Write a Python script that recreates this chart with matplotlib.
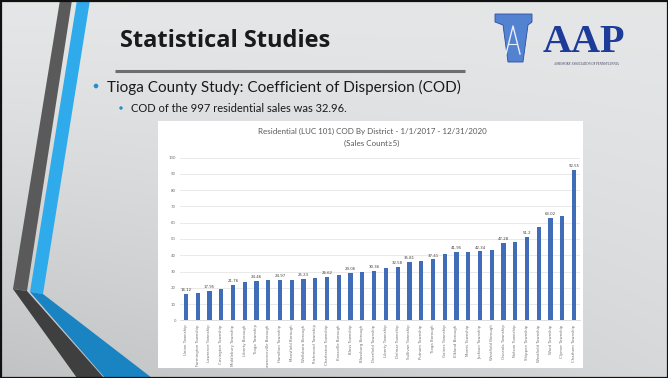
import numpy as np
import matplotlib.pyplot as plt
from matplotlib.patches import Polygon, Rectangle, Circle

# COD by district, sorted ascending
districts = [
    "Union Township", "Farmington Township", "Lawrence Township", "Covington Township",
    "Middlebury Township", "Liberty Borough", "Tioga Township", "Lawrenceville Borough",
    "Hamilton Township", "Mansfield Borough", "Wellsboro Borough", "Richmond Township",
    "Charleston Township", "Knoxville Borough", "Bloss Township", "Blossburg Borough",
    "Deerfield Township", "Liberty Township", "Delmar Township", "Sullivan Township",
    "Putnam Township", "Tioga Borough", "Gaines Township", "Elkland Borough",
    "Morris Township", "Jackson Township", "Westfield Borough", "Osceola Township",
    "Nelson Township", "Shippen Township", "Westfield Township", "Ward Township",
    "Clymer Township", "Chatham Township",
]
cod = [16.12, 16.5, 17.95, 19.3, 21.76, 23.4, 24.46, 24.5, 24.97, 25.0, 25.23, 26.3,
       26.62, 27.9, 29.06, 29.9, 30.36, 32.0, 32.58, 35.81, 36.5, 37.41, 40.7, 41.95,
       42.0, 42.34, 43.3, 47.28, 48.4, 51.2, 57.3, 63.02, 64.3, 92.55]
# bars that carry a value label
labeled = [0, 2, 4, 6, 8, 10, 12, 14, 16, 18, 19, 21, 23, 25, 27, 29, 31, 33]
y_ticks = list(range(0, 101, 10))

W, H = 668, 378
fig = plt.figure(figsize=(W / 100, H / 100), dpi=100)

# slide background, working in pixel coords
bg = fig.add_axes([0, 0, 1, 1])
bg.set_xlim(0, W)
bg.set_ylim(H, 0)
bg.axis('off')

yy, xx = np.mgrid[0:1:200j, 0:1:300j]
base = np.array([0.895, 0.903, 0.906])
drop = 0.14 * yy ** 1.3 * (1 - 0.6 * xx)
rgb = np.clip(base[None, None, :] - drop[:, :, None], 0, 1)
bg.imshow(rgb, extent=[0, W, H, 0], aspect='auto', zorder=0)

# left side bands
bg.add_patch(Polygon([(60, 0), (72, 0), (27, 291), (13, 289)], closed=True,
                     fc='#5a5a5a', ec='none', zorder=1))
bg.add_patch(Polygon([(13, 289), (27, 291), (104, 378), (77, 378)], closed=True,
                     fc='#3f3f3f', ec='none', zorder=1))
bg.add_patch(Polygon([(77, 0), (90, 0), (43, 294), (30, 292)], closed=True,
                     fc='#2fabeb', ec='none', zorder=1))
bg.add_patch(Polygon([(30, 292), (43, 294), (152, 378), (105, 378)], closed=True,
                     fc='#1a84c3', ec='none', zorder=1))

# title and rule
bg.text(120, 41, "Statistical Studies", fontsize=17, fontweight='bold',
        family='Open Sans', color='#1a1a1a', va='center', ha='left')
bg.plot([115, 465], [71, 71], color='#6e6e6e', lw=2.2, solid_capstyle='butt')

# logo
bg.add_patch(Polygon([(495, 14), (532, 14), (532, 22), (528, 25), (523, 62),
                      (508, 62), (503, 25), (495, 22)], closed=True,
                     fc='#5282d0', ec='#2c4f9e', lw=0.6, zorder=2))
bg.plot([506, 513, 520], [54, 26, 54], color='#e8eefa', lw=1.0, zorder=3)
bg.plot([509, 517], [44, 44], color='#e8eefa', lw=0.8, zorder=3)
bg.text(584, 42, "AAP", fontsize=29, fontweight='bold', family='Liberation Serif',
        color='#1d3c9a', ha='center', va='center')
bg.text(586, 64, "ASSESSORS' ASSOCIATION OF PENNSYLVANIA", fontsize=2.2,
        family='Liberation Serif', color='#333355', ha='center', va='center')

# bullets
bg.add_patch(Circle((96, 86), 2.3, fc='#1e8fd0', ec='none'))
bg.text(107, 87, "Tioga County Study: Coefficient of Dispersion (COD)", fontsize=11,
        family='Lato', color='#1a1a1a', va='center', ha='left')
bg.add_patch(Circle((121, 108), 1.7, fc='#1e8fd0', ec='none'))
bg.text(131, 109, "COD of the 997 residential sales was 32.96.", fontsize=8.0,
        family='Lato', color='#1a1a1a', va='center', ha='left')

# chart panel
bg.add_patch(Rectangle((158, 121), 425, 247, fc='white', ec='none', zorder=1))
bg.text(372, 131, "Residential (LUC 101) COD By District - 1/1/2017 - 12/31/2020",
        fontsize=5.8, family='Lato', color='#595959', ha='center', va='center')
bg.text(372, 143, "(Sales Count\u22655)", fontsize=5.8, family='Lato',
        color='#595959', ha='center', va='center')

# slide border
bg.add_patch(Rectangle((0.5, 0.5), W - 1, H - 1, fc='none', ec='#111111', lw=1.6, zorder=5))

ax = fig.add_axes([180 / W, (H - 320.3) / H, 400 / W, 162.6 / H])
ax.patch.set_alpha(0)
x = np.arange(len(districts))
ax.bar(x, cod, width=0.36, color='#3f6db8', zorder=2)
for i in labeled:
    ax.text(x[i], cod[i] + 1.2, '%g' % cod[i], fontsize=2.8, color='#404040',
            ha='center', va='bottom')
ax.set_xlim(-0.5, len(districts) - 0.5)
ax.set_ylim(0, 100)
ax.set_yticks(y_ticks)
ax.set_xticks(x)
ax.set_xticklabels(districts, rotation=90)
ax.yaxis.grid(True, color='#e0e0e0', lw=0.5)
ax.set_axisbelow(True)
for s in ['top', 'right', 'left']:
    ax.spines[s].set_visible(False)
ax.spines['bottom'].set_color('#d0d0d0')
ax.spines['bottom'].set_linewidth(0.5)
ax.tick_params(length=0, labelsize=2.8, colors='#707070', pad=3)

# keep district names inside the white panel
clip = Rectangle((158, 121), 425, 247, transform=bg.transData)
for lab in ax.get_xticklabels():
    lab.set_clip_path(clip)

fig.savefig('out.png', dpi=100)
